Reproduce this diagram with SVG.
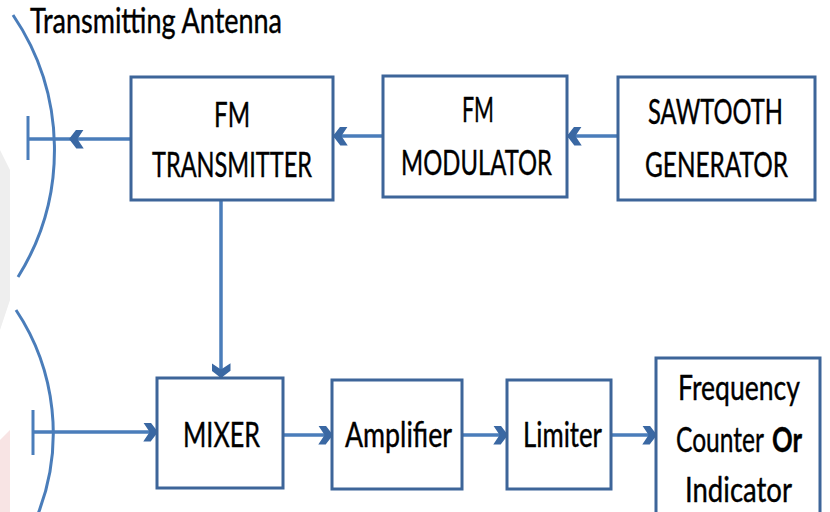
<svg xmlns="http://www.w3.org/2000/svg" width="830" height="512" viewBox="0 0 830 512">
<defs>
<style>
.box{fill:#ffffff;stroke:#3d6599;stroke-width:3}
.ln{fill:none;stroke:#4a7dba;stroke-width:3.5}
.ant{fill:none;stroke:#4a7dba;stroke-width:3}
.t{font-family:Lato,"Liberation Sans",sans-serif;font-size:34px;fill:#000;stroke:#000;stroke-width:0.4;text-anchor:start}
</style>
<marker id="chev" markerUnits="userSpaceOnUse" viewBox="0 0 14 18" refX="13" refY="9" markerWidth="15" markerHeight="19" orient="auto">
<path d="M0,0 L7,0 L14,9 L7,18 L0,18 L6,9 Z" fill="#3a68a3"/>
</marker>
</defs>
<rect x="0" y="0" width="830" height="512" fill="#ffffff"/>
<path d="M0,150 L10,170 L10,300 L0,330 Z" fill="#eeeeee"/>
<path d="M0,440 L10,430 L10,512 L0,512 Z" fill="#f8e4e4"/>

<g id="antenna-tx">
<path class="ant" d="M13,15 A240,240 0 0 1 18,277"/>
<line class="ant" x1="28" y1="116" x2="28" y2="160"/>
</g>
<g id="antenna-rx">
<path class="ant" d="M16,310 A222,222 0 0 1 38,514"/>
<line class="ant" x1="33" y1="410" x2="33" y2="455"/>
</g>
<text class="t" x="30" y="33" font-size="30" textLength="252" lengthAdjust="spacingAndGlyphs">Transmitting Antenna</text>

<g id="connectors">
<path class="ln" d="M618,136 L568,136" marker-end="url(#chev)"/>
<path class="ln" d="M383,136 L334,136" marker-end="url(#chev)"/>
<path class="ln" d="M131,139 L70,139 L28,139" marker-mid="url(#chev)"/>
<path class="ln" d="M221,200 L221,377" marker-end="url(#chev)"/>
<path class="ln" d="M33,432 L157,432" marker-end="url(#chev)"/>
<path class="ln" d="M283,435 L332,435" marker-end="url(#chev)"/>
<path class="ln" d="M462,435 L507,435" marker-end="url(#chev)"/>
<path class="ln" d="M611,435 L656,435" marker-end="url(#chev)"/>
</g>

<g id="fm-transmitter">
<rect class="box" x="131" y="77" width="202" height="123"/>
<text class="t" x="214" y="127" textLength="36" lengthAdjust="spacingAndGlyphs">FM</text>
<text class="t" x="152" y="177" textLength="160" lengthAdjust="spacingAndGlyphs">TRANSMITTER</text>
</g>
<g id="fm-modulator">
<rect class="box" x="383" y="76" width="184" height="121"/>
<text class="t" x="462" y="122" textLength="32" lengthAdjust="spacingAndGlyphs">FM</text>
<text class="t" x="401" y="175" textLength="151" lengthAdjust="spacingAndGlyphs">MODULATOR</text>
</g>
<g id="sawtooth-generator">
<rect class="box" x="618" y="77" width="197" height="123"/>
<text class="t" x="648" y="124" textLength="135" lengthAdjust="spacingAndGlyphs">SAWTOOTH</text>
<text class="t" x="645" y="177" textLength="143" lengthAdjust="spacingAndGlyphs">GENERATOR</text>
</g>
<g id="mixer">
<rect class="box" x="157" y="378" width="126" height="110"/>
<text class="t" x="183" y="447" textLength="77" lengthAdjust="spacingAndGlyphs">MIXER</text>
</g>
<g id="amplifier">
<rect class="box" x="332" y="380" width="130" height="109"/>
<text class="t" x="345" y="447" textLength="107" lengthAdjust="spacingAndGlyphs">Amplifier</text>
</g>
<g id="limiter">
<rect class="box" x="507" y="380" width="104" height="109"/>
<text class="t" x="523" y="447" textLength="79" lengthAdjust="spacingAndGlyphs">Limiter</text>
</g>
<g id="frequency-counter">
<rect class="box" x="656" y="358" width="164" height="160"/>
<text class="t" x="678" y="400" textLength="122" lengthAdjust="spacingAndGlyphs">Frequency</text>
<text class="t" x="676" y="452" textLength="88" lengthAdjust="spacingAndGlyphs">Counter</text>
<text class="t" x="772" y="452" font-weight="bold" textLength="30" lengthAdjust="spacingAndGlyphs">Or</text>
<text class="t" x="685" y="502" textLength="107" lengthAdjust="spacingAndGlyphs">Indicator</text>
</g>
</svg>
